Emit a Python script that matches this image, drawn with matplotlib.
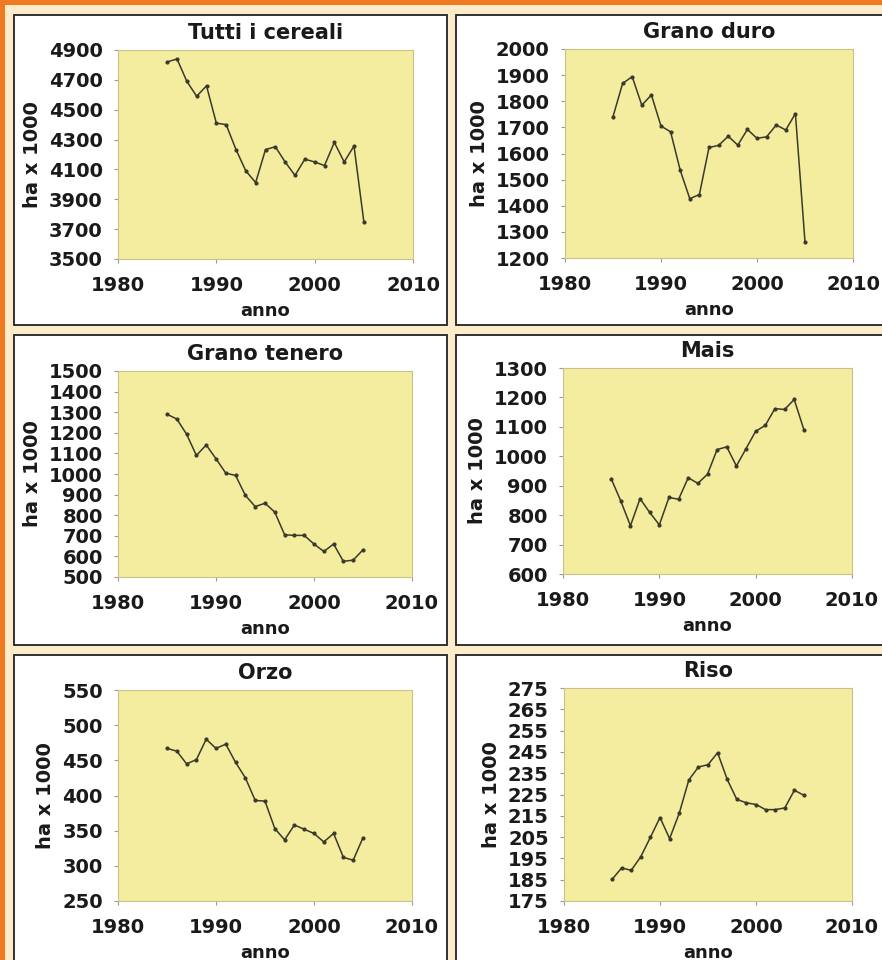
import numpy as np
import matplotlib
matplotlib.use("Agg")
from matplotlib import pyplot as plt
from matplotlib.patches import Rectangle

# anni 1985-2005
anni = np.arange(1985, 2006)

tutti_cereali = [4820, 4840, 4690, 4590, 4660, 4410, 4400, 4233, 4090, 4012, 4233,
                 4252, 4150, 4060, 4169, 4150, 4126, 4281, 4150, 4257, 3750]
grano_duro = [1741, 1868, 1894, 1785, 1824, 1705, 1683, 1536, 1427, 1443, 1623,
              1631, 1666, 1632, 1692, 1658, 1664, 1709, 1690, 1753, 1261]
grano_tenero = [1290, 1267, 1193, 1090, 1141, 1074, 1004, 993, 896, 842, 858,
                815, 705, 702, 702, 660, 624, 660, 576, 582, 632]
mais = [924, 848, 764, 856, 809, 767, 860, 854, 927, 908, 939,
        1023, 1032, 967, 1026, 1085, 1105, 1162, 1159, 1193, 1091]
orzo = [467, 463, 445, 451, 480, 467, 473, 447, 425, 393, 392,
        353, 337, 358, 352, 346, 334, 346, 312, 308, 340]
riso = [185.1, 190.5, 189.4, 195.8, 204.9, 214.2, 204.3, 216.1, 231.8, 237.9, 239.0,
        244.6, 232.1, 222.7, 221.1, 220.3, 217.9, 217.9, 218.7, 227.0, 224.6]

titoli = ["Tutti i cereali", "Grano duro", "Grano tenero", "Mais", "Orzo", "Riso"]
serie = [tutti_cereali, grano_duro, grano_tenero, mais, orzo, riso]
# (min, max, passo) asse y
scale_y = [(3500, 4900, 200), (1200, 2000, 100), (500, 1500, 100),
           (600, 1300, 100), (250, 550, 50), (175, 275, 10)]

W, H = 882, 960
fig = plt.figure(figsize=(W / 100, H / 100), dpi=100)
fig.patch.set_facecolor("#fdebca")


def fbox(x0, y0, x1, y1):
    return [x0 / W, 1 - y1 / H, (x1 - x0) / W, (y1 - y0) / H]


# bordi arancioni
fig.patches.append(Rectangle((0, 1 - 5 / H), 1, 5 / H, transform=fig.transFigure,
                             facecolor="#f07a22", edgecolor="none", zorder=-10))
fig.patches.append(Rectangle((0, 0), 5 / W, 1, transform=fig.transFigure,
                             facecolor="#f07a22", edgecolor="none", zorder=-10))

# riquadri bianchi
riquadri = [(14, 15, 447, 325), (456, 15, 895, 325),
            (14, 335, 447, 645), (456, 335, 895, 645),
            (14, 655, 447, 975), (456, 655, 895, 975)]
for x0, y0, x1, y1 in riquadri:
    b = fbox(x0, y0, x1, y1)
    fig.patches.append(Rectangle((b[0], b[1]), b[2], b[3], transform=fig.transFigure,
                                 facecolor="white", edgecolor="#222222", linewidth=1.3,
                                 zorder=-10))

aree = [(118, 50, 413, 259), (565, 49, 853, 258),
        (118, 371, 412, 577), (563, 368, 852, 574),
        (118, 690, 412, 901), (564, 688, 852, 901)]

for i in range(6):
    ax = fig.add_axes(fbox(*aree[i]))
    ax.set_facecolor("#f4ec9e")
    ax.plot(anni, serie[i], color="#3a3a2c", linewidth=1.1, marker="o", markersize=2)
    lo, hi, st = scale_y[i]
    ax.set_xlim(1980, 2010)
    ax.set_ylim(lo, hi)
    ax.set_xticks([1980, 1990, 2000, 2010])
    ax.set_yticks(np.arange(lo, hi + st, st))
    for s in ax.spines.values():
        s.set_color("#c9c28a")
        s.set_linewidth(0.8)
    ax.tick_params(axis="both", length=3, color="#999999", labelsize=14, pad=8)
    ax.tick_params(axis="x", pad=9)
    for lab in ax.get_xticklabels() + ax.get_yticklabels():
        lab.set_fontweight("bold")
        lab.set_color("#1a1a1a")
    ax.set_title(titoli[i], fontsize=15, fontweight="bold", pad=8, color="#1a1a1a")
    ax.set_xlabel("anno", fontsize=13, fontweight="bold", labelpad=5, color="#1a1a1a")
    ax.set_ylabel("ha x 1000", fontsize=14, fontweight="bold", labelpad=5, color="#1a1a1a")

plt.savefig("out.png", dpi=100, facecolor=fig.get_facecolor())
